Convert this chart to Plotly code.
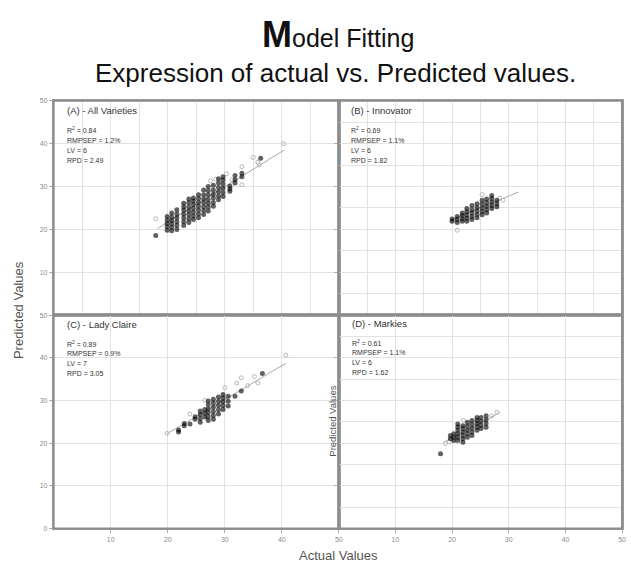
import plotly.graph_objects as go

# ---------------- data ----------------
# Panel A - All Varieties: dense predictions, grouped by actual value
a_actual = ([17.9] + [19.9] * 5 + [20.7] * 6 + [21.6] * 6 + [22.8] * 7 + [23.7] * 7 + [24.5] * 7
            + [25.4] * 7 + [26.3] * 7 + [27.1] * 7 + [28.0] * 6 + [28.9] * 6 + [29.7] * 6
            + [30.9] * 3 + [31.8] * 3 + [33.0] * 2 + [36.3])
a_pred = ([18.6],
          [19.8, 20.6, 21.4, 22.2, 23.0],
          [19.7, 20.5, 21.3, 22.1, 22.9, 23.8],
          [20.0, 20.9, 21.8, 22.7, 23.6, 24.6],
          [20.9, 21.8, 22.7, 23.6, 24.5, 25.3, 26.1],
          [21.6, 22.5, 23.4, 24.3, 25.2, 26.2, 27.1],
          [22.3, 23.1, 24.0, 24.9, 25.8, 26.6, 27.3],
          [22.7, 23.6, 24.5, 25.4, 26.3, 27.2, 28.1],
          [23.5, 24.4, 25.3, 26.2, 27.1, 28.1, 29.2],
          [24.3, 25.2, 26.1, 27.0, 28.0, 29.0, 30.0],
          [25.4, 26.3, 27.3, 28.2, 29.2, 30.3],
          [26.9, 27.8, 28.8, 29.8, 30.8, 31.8],
          [27.7, 28.6, 29.6, 30.6, 31.5, 32.3],
          [28.9, 29.5, 30.1],
          [30.8, 31.6, 32.6],
          [32.3, 33.1],
          [36.6])
a_pred = [v for grp in a_pred for v in grp]
a_light_actual = [17.9, 33.0, 33.0, 35.0, 35.8, 36.0, 40.3, 28.4, 30.3, 27.5, 31.3]
a_light_pred = [22.5, 34.6, 30.4, 36.8, 35.7, 35.0, 40.0, 31.7, 33.0, 31.3, 31.6]
a_fit_actual = [18.2, 40.4]
a_fit_pred = [20.2, 38.5]

# Panel B - Innovator
b_actual = ([20.0] * 2 + [20.9] * 3 + [21.8] * 4 + [22.6] * 5 + [23.5] * 5 + [24.4] * 5
            + [25.3] * 5 + [26.1] * 5 + [27.0] * 5 + [27.9] * 3)
b_pred = ([21.9, 22.4],
          [21.6, 22.3, 23.0],
          [21.9, 22.5, 23.2, 23.8],
          [21.9, 22.6, 23.3, 24.1, 24.9],
          [22.3, 23.0, 23.8, 24.6, 25.6],
          [22.7, 23.5, 24.3, 25.1, 26.0],
          [23.4, 24.2, 25.0, 25.9, 26.8],
          [23.8, 24.6, 25.4, 26.3, 27.1],
          [24.9, 25.6, 26.4, 27.2, 27.9],
          [25.3, 26.0, 26.8])
b_pred = [v for grp in b_pred for v in grp]
b_light_actual = [20.9, 25.3, 29.0, 28.4]
b_light_pred = [19.8, 28.1, 26.8, 27.3]
b_fit_actual = [19.9, 31.7]
b_fit_pred = [22.3, 28.7]

# Panel C - Lady Claire
c_actual = ([21.9] * 2 + [22.9] * 2 + [23.9] + [24.8] * 2 + [25.7] * 4 + [26.5] * 3 + [27.1] * 6
            + [28.0] * 6 + [28.9] * 5 + [29.7] * 5 + [30.6] * 3 + [31.8] + [32.9] + [36.6])
c_pred = ([22.6, 23.1],
          [24.1, 24.6],
          [24.5],
          [25.6, 26.2],
          [24.9, 25.8, 26.7, 27.5],
          [26.1, 27.0, 27.9],
          [25.3, 26.2, 27.1, 28.0, 29.0, 29.9],
          [25.6, 26.5, 27.4, 28.4, 29.4, 30.3],
          [26.8, 27.8, 28.8, 29.8, 30.8],
          [27.9, 28.8, 29.7, 30.6, 31.4],
          [28.7, 29.8, 31.0],
          [31.0],
          [32.2],
          [36.3])
c_pred = [v for grp in c_pred for v in grp]
c_light_actual = [19.9, 23.9, 26.5, 32.1, 32.9, 35.2, 35.8, 40.7, 30.0, 34.0]
c_light_pred = [22.3, 26.8, 30.0, 34.1, 35.3, 35.6, 34.1, 40.6, 33.0, 33.5]
c_fit_actual = [19.9, 40.7]
c_fit_pred = [22.2, 38.7]

# Panel D - Markies
d_actual = ([17.95] + [19.7] * 2 + [20.3] * 3 + [21.0] * 6 + [21.9] * 6 + [22.7] * 5
            + [23.5] * 5 + [24.4] * 5 + [25.1] * 4 + [26.0] * 4)
d_pred = ([17.5],
          [21.0, 21.8],
          [20.6, 21.4, 22.2],
          [20.6, 21.4, 22.2, 23.0, 23.8, 24.5],
          [20.2, 21.0, 21.8, 22.6, 23.4, 24.1],
          [21.4, 22.2, 23.1, 24.0, 24.9],
          [21.8, 22.6, 23.5, 24.4, 25.3],
          [23.0, 23.8, 24.6, 25.3, 26.0],
          [23.4, 24.2, 25.1, 26.0],
          [23.7, 24.6, 25.5, 26.4])
d_pred = [v for grp in d_pred for v in grp]
d_light_actual = [18.8, 19.5, 27.0, 27.9, 22.0]
d_light_pred = [19.9, 20.3, 26.4, 27.2, 25.3]
d_fit_actual = [18.5, 28.5]
d_fit_pred = [20.2, 27.2]

panel_titles = ["(A) - All Varieties", "(B) - Innovator", "(C) - Lady Claire", "(D) - Markies"]
r2 = ["0.84", "0.69", "0.89", "0.61"]
rmsep = ["1.2%", "1.1%", "0.9%", "1.1%"]
lv = ["6", "6", "7", "6"]
rpd = ["2.49", "1.82", "3.05", "1.62"]

y_ticks_top = [10, 20, 30, 40, 50]
y_ticks_bottom = [0, 10, 20, 30, 40, 50]
x_ticks = [10, 20, 30, 40, 50]

# ---------------- figure ----------------
W, H = 631, 568
FONT = "Liberation Sans, Arial, sans-serif"
fig = go.Figure()

panels = [
    (a_actual, a_pred, a_light_actual, a_light_pred, a_fit_actual, a_fit_pred),
    (b_actual, b_pred, b_light_actual, b_light_pred, b_fit_actual, b_fit_pred),
    (c_actual, c_pred, c_light_actual, c_light_pred, c_fit_actual, c_fit_pred),
    (d_actual, d_pred, d_light_actual, d_light_pred, d_fit_actual, d_fit_pred),
]

for i, (ax, ay, lx, ly, fx, fy) in enumerate(panels):
    sfx = "" if i == 0 else str(i + 1)
    xa, ya = "x" + sfx, "y" + sfx
    fig.add_trace(go.Scatter(x=fx, y=fy, mode="lines", xaxis=xa, yaxis=ya,
                             line=dict(color="#a8a8a8", width=1), showlegend=False,
                             hoverinfo="skip"))
    fig.add_trace(go.Scatter(x=lx, y=ly, mode="markers", xaxis=xa, yaxis=ya,
                             marker=dict(symbol="circle-open", size=4, color="#b8b8b8",
                                         line=dict(width=1)), showlegend=False))
    fig.add_trace(go.Scatter(x=ax, y=ay, mode="markers", xaxis=xa, yaxis=ya,
                             marker=dict(symbol="circle", size=5, color="rgba(0,0,0,0.62)",
                                         line=dict(width=0)), showlegend=False))

# pixel geometry of the 2x2 grid
left_px, mid_px, right_px = 54, 341, 626
top_px, midy_px, bottom_px = 98, 315, 531


def px_x(p):
    return p / W


def px_y(p):
    return 1 - p / H


x_dom_l = [px_x(left_px), px_x(mid_px)]
x_dom_r = [px_x(mid_px), px_x(right_px)]
y_dom_t = [px_y(midy_px), px_y(top_px)]
y_dom_b = [px_y(bottom_px), px_y(midy_px)]

grid_c = "#e2e2e2"
line_c = "#9c9c9c"
tick_font = dict(family=FONT, size=7, color="#8a8a8a")


def axis(domain, anchor, show_labels, tickvals, minor_grid):
    d = dict(domain=domain, anchor=anchor, range=[0, 50], showline=True, mirror=True,
             linecolor=line_c, linewidth=1.5, showgrid=True, gridcolor=grid_c, gridwidth=1,
             zeroline=False, tickmode="array", tickvals=tickvals, ticks="outside",
             ticklen=3, tickcolor="#aaaaaa", showticklabels=show_labels, tickfont=tick_font,
             fixedrange=True)
    if minor_grid:
        d["minor"] = dict(tickmode="linear", tick0=0, dtick=5, showgrid=True,
                          gridcolor=grid_c, gridwidth=1, ticks="")
    return d


fig.update_layout(
    width=W, height=H, margin=dict(l=0, r=0, t=0, b=0),
    paper_bgcolor="white", plot_bgcolor="white",
    font=dict(family=FONT),
    xaxis=axis(x_dom_l, "y", False, x_ticks, True),
    yaxis=axis(y_dom_t, "x", True, y_ticks_top, False),
    xaxis2=axis(x_dom_r, "y2", False, x_ticks, True),
    yaxis2=axis(y_dom_t, "x2", False, y_ticks_top, True),
    xaxis3=axis(x_dom_l, "y3", True, x_ticks, False),
    yaxis3=axis(y_dom_b, "x3", True, y_ticks_bottom, False),
    xaxis4=axis(x_dom_r, "y4", True, x_ticks, False),
    yaxis4=axis(y_dom_b, "x4", False, y_ticks_bottom, True),
)

ann = []
# title and subtitle
ann.append(dict(text="<b><span style='font-size:36px'>M</span></b>odel Fitting",
                x=px_x(340), y=px_y(31), xref="paper", yref="paper", showarrow=False,
                xanchor="center", yanchor="middle",
                font=dict(family=FONT, size=25, color="#111111")))
ann.append(dict(text="Expression of actual vs. Predicted values.",
                x=px_x(338), y=px_y(70), xref="paper", yref="paper", showarrow=False,
                xanchor="center", yanchor="middle",
                font=dict(family=FONT, size=26, color="#111111")))
# axis titles
ann.append(dict(text="Predicted Values", x=px_x(18), y=px_y(310), xref="paper", yref="paper",
                showarrow=False, textangle=-90, xanchor="center", yanchor="middle",
                font=dict(family=FONT, size=13, color="#555555")))
ann.append(dict(text="Actual Values", x=px_x(341), y=px_y(558), xref="paper", yref="paper",
                showarrow=False, xanchor="center", yanchor="middle",
                font=dict(family=FONT, size=13, color="#555555")))
ann.append(dict(text="Predicted Values", x=px_x(335), y=px_y(422), xref="paper", yref="paper",
                showarrow=False, textangle=-90, xanchor="center", yanchor="middle",
                font=dict(family=FONT, size=9.5, color="#555555")))

# panel labels and statistics
title_pos = [(65, 108), (351, 108), (65, 324), (352, 323)]
for i, (tx, ty) in enumerate(title_pos):
    ann.append(dict(text=panel_titles[i], x=px_x(tx), y=px_y(ty), xref="paper", yref="paper",
                    showarrow=False, xanchor="left", yanchor="middle",
                    font=dict(family=FONT, size=9.5, color="#333333")))
    lines = ["R<sup>2</sup> = " + r2[i], "RMPSEP = " + rmsep[i], "LV = " + lv[i],
             "RPD = " + rpd[i]]
    for k, t in enumerate(lines):
        ann.append(dict(text=t, x=px_x(tx), y=px_y(ty + 20 + 10 * k), xref="paper",
                        yref="paper", showarrow=False, xanchor="left", yanchor="middle",
                        font=dict(family=FONT, size=7, color="#333333")))

fig.update_layout(annotations=ann)

# outer frame and dividers
fig.add_shape(type="rect", xref="paper", yref="paper", x0=x_dom_l[0], x1=x_dom_r[1],
              y0=y_dom_b[0], y1=y_dom_t[1], line=dict(color="#8c8c8c", width=2))
fig.add_shape(type="line", xref="paper", yref="paper", x0=x_dom_l[0], x1=x_dom_r[1],
              y0=y_dom_t[0], y1=y_dom_t[0], line=dict(color="#8c8c8c", width=2))
fig.add_shape(type="line", xref="paper", yref="paper", x0=x_dom_r[0], x1=x_dom_r[0],
              y0=y_dom_b[0], y1=y_dom_t[1], line=dict(color="#8c8c8c", width=2))

fig.write_html("out.html")
